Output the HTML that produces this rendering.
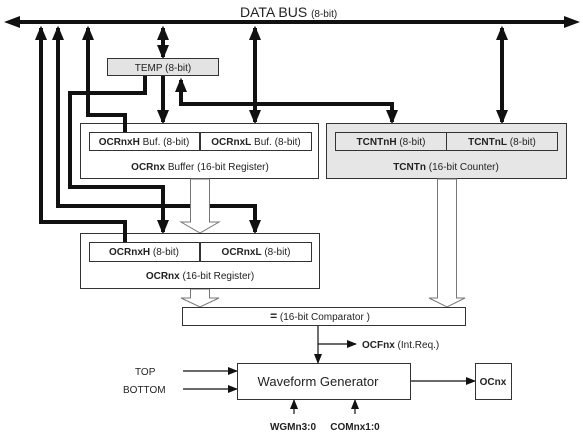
<!DOCTYPE html>
<html><head><meta charset="utf-8"><style>
html,body{margin:0;padding:0;background:#fff}
svg{display:block}
text{font-family:"Liberation Sans",sans-serif;fill:#222}
</style></head><body>
<svg width="583" height="440" viewBox="0 0 583 440" xmlns="http://www.w3.org/2000/svg">
<defs>
<marker id="a" markerWidth="3.6" markerHeight="3" refX="3" refY="1.5" orient="auto-start-reverse" markerUnits="strokeWidth"><path d="M0,0 L3.6,1.5 L0,3 Z" fill="#111"/></marker>
<marker id="b" markerWidth="10" markerHeight="8" refX="9" refY="4" orient="auto" markerUnits="userSpaceOnUse"><path d="M0,0 L10,4 L0,8 Z" fill="#111"/></marker>
</defs>
<!-- Data bus -->
<line x1="10" y1="22" x2="574" y2="22" stroke="#111" stroke-width="4"/>
<path d="M4,22 L20,16 L20,28 Z" fill="#111"/>
<path d="M580,22 L564,16 L564,28 Z" fill="#111"/>
<text x="240" y="17" font-size="14">DATA BUS <tspan font-size="10">(8-bit)</tspan></text>

<g fill="none" stroke="#111" stroke-width="4">
<polyline points="41,28 41,222 125,222 125,242" marker-start="url(#a)"/>
<polyline points="58,28 58,206 255,206 255,232" marker-start="url(#a)" marker-end="url(#a)"/>
<polyline points="88,28 88,115 125,115 125,132" marker-start="url(#a)"/>
<polyline points="145,76 145,93 70,93 70,187 163,187 163,232" marker-end="url(#a)"/>
<line x1="163" y1="28" x2="163" y2="57" marker-start="url(#a)" marker-end="url(#a)"/>
<line x1="163" y1="76" x2="163" y2="122" marker-end="url(#a)"/>
<line x1="255" y1="28" x2="255" y2="122" marker-start="url(#a)" marker-end="url(#a)"/>
<polyline points="181,80 181,104 392,104 392,122" marker-start="url(#a)" marker-end="url(#a)"/>
<line x1="502" y1="28" x2="502" y2="122" marker-start="url(#a)" marker-end="url(#a)"/>
</g>

<rect x="107.5" y="58.5" width="111" height="17" fill="#e3e3e3" stroke="#333"/>
<text x="163" y="71" font-size="10" text-anchor="middle">TEMP (8-bit)</text>

<rect x="80.5" y="123.5" width="238" height="55" fill="#fff" stroke="#333"/>
<rect x="89.5" y="132.5" width="110" height="18" fill="#fff" stroke="#333"/>
<rect x="200.5" y="132.5" width="111" height="18" fill="#fff" stroke="#333"/>
<line x1="125" y1="122" x2="125" y2="132" stroke="#111" stroke-width="4"/>
<text x="144" y="145" font-size="10" text-anchor="middle"><tspan font-weight="bold">OCRnxH</tspan> Buf. (8-bit)</text>
<text x="256" y="145" font-size="10" text-anchor="middle"><tspan font-weight="bold">OCRnxL</tspan> Buf. (8-bit)</text>
<text x="200" y="170" font-size="10" text-anchor="middle"><tspan font-weight="bold">OCRnx</tspan>  Buffer (16-bit Register)</text>

<rect x="326.5" y="123.5" width="240" height="55" fill="#e6e6e6" stroke="#333"/>
<rect x="335.5" y="132.5" width="111" height="18" fill="#e6e6e6" stroke="#333"/>
<rect x="446.5" y="132.5" width="111" height="18" fill="#e6e6e6" stroke="#333"/>
<text x="391" y="145" font-size="10" text-anchor="middle"><tspan font-weight="bold">TCNTnH</tspan> (8-bit)</text>
<text x="502" y="145" font-size="10" text-anchor="middle"><tspan font-weight="bold">TCNTnL</tspan> (8-bit)</text>
<text x="446" y="170" font-size="10" text-anchor="middle"><tspan font-weight="bold">TCNTn</tspan> (16-bit Counter)</text>

<g fill="#fff" stroke="#777" stroke-width="1">
<path d="M190.5,179 L190.5,222 L181,222 L200,233 L219,222 L209.5,222 L209.5,179 Z"/>
<path d="M190.5,289 L190.5,298 L181,298 L200,307 L219,298 L209.5,298 L209.5,289 Z"/>
<path d="M437.5,179 L437.5,298 L429,298 L447,307 L465,298 L456.5,298 L456.5,179 Z"/>
</g>

<rect x="80.5" y="233.5" width="239" height="55" fill="#fff" stroke="#333"/>
<rect x="89.5" y="242.5" width="110" height="19" fill="#fff" stroke="#333"/>
<rect x="200.5" y="242.5" width="111" height="19" fill="#fff" stroke="#333"/>
<line x1="125" y1="222" x2="125" y2="242" stroke="#111" stroke-width="4"/>
<text x="144" y="255" font-size="10" text-anchor="middle"><tspan font-weight="bold">OCRnxH</tspan> (8-bit)</text>
<text x="256" y="255" font-size="10" text-anchor="middle"><tspan font-weight="bold">OCRnxL</tspan> (8-bit)</text>
<text x="200" y="279" font-size="10" text-anchor="middle"><tspan font-weight="bold">OCRnx</tspan> (16-bit Register)</text>

<rect x="182.5" y="307.5" width="283" height="18" fill="#fff" stroke="#333"/>
<text x="320" y="320" font-size="10" text-anchor="middle"><tspan font-weight="bold" font-size="12">=</tspan> (16-bit Comparator )</text>

<g stroke="#111" stroke-width="1.2" fill="none">
<line x1="318" y1="326" x2="318" y2="363" marker-end="url(#b)"/>
<line x1="318" y1="344" x2="356" y2="344" marker-end="url(#b)"/>
<line x1="183" y1="371" x2="237" y2="371" marker-end="url(#b)"/>
<line x1="183" y1="389" x2="237" y2="389" marker-end="url(#b)"/>
<line x1="411" y1="381" x2="475" y2="381" marker-end="url(#b)"/>
<line x1="294" y1="414" x2="294" y2="400" marker-end="url(#b)"/>
<line x1="355" y1="414" x2="355" y2="400" marker-end="url(#b)"/>
</g>
<text x="362" y="348" font-size="10"><tspan font-weight="bold">OCFnx</tspan> (Int.Req.)</text>
<text x="135" y="375" font-size="10">TOP</text>
<text x="123" y="393" font-size="10">BOTTOM</text>
<rect x="237.5" y="363.5" width="173" height="36" fill="#fff" stroke="#333"/>
<text x="318" y="386" font-size="13" text-anchor="middle">Waveform Generator</text>
<rect x="475.5" y="363.5" width="36" height="36" fill="#fff" stroke="#333"/>
<text x="493" y="385" font-size="10" font-weight="bold" text-anchor="middle">OCnx</text>
<text x="293" y="430" font-size="10" font-weight="bold" text-anchor="middle">WGMn3:0</text>
<text x="355" y="430" font-size="10" font-weight="bold" text-anchor="middle">COMnx1:0</text>
</svg>
</body></html>
